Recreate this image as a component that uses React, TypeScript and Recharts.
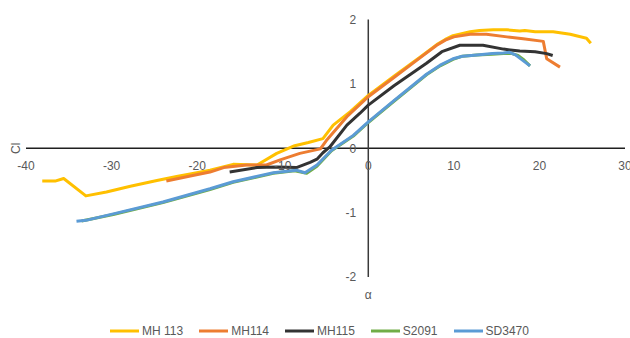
import React from 'react';
import { LineChart, Line, XAxis, YAxis, ReferenceLine, ReferenceDot, Legend } from 'recharts';

// ---- data (angle of attack α in degrees, lift coefficient Cl) ----
const mh113Alpha = [-38.1, -36.6, -35.6, -33.0, -30.6, -27.8, -24.7, -22.4, -20.5, -18.5, -15.8, -13.0, -10.7, -8.6, -7.0, -5.3, -4.1, -2.1, 0, 3, 6, 8, 9, 9.9, 11.9, 13, 14.6, 16.2, 17.7, 18.3, 19.5, 21.6, 23.6, 25.5, 26.0];
const mh113Cl = [-0.51, -0.51, -0.47, -0.74, -0.68, -0.59, -0.50, -0.44, -0.39, -0.34, -0.25, -0.26, -0.08, 0.04, 0.09, 0.15, 0.36, 0.57, 0.82, 1.12, 1.41, 1.61, 1.69, 1.75, 1.81, 1.83, 1.84, 1.84, 1.82, 1.83, 1.81, 1.81, 1.77, 1.71, 1.63];

const mh114Alpha = [-23.6, -20.8, -18.5, -16.9, -14.2, -11.9, -10.3, -8.0, -5.6, -4.9, -2.5, 0, 3, 6, 8, 9, 10, 11.9, 13.8, 16.2, 18.1, 20.45, 20.85, 22.4];
const mh114Cl = [-0.51, -0.43, -0.37, -0.30, -0.26, -0.26, -0.18, -0.08, -0.01, 0.12, 0.49, 0.80, 1.10, 1.40, 1.60, 1.68, 1.73, 1.77, 1.77, 1.73, 1.70, 1.66, 1.39, 1.26];

const mh115Alpha = [-16.2, -13.0, -10.7, -8.4, -6.8, -6.0, -5.3, -4.5, -2.5, -1.0, 0, 3, 6.8, 8.6, 10.7, 13.4, 15.8, 17.7, 19.5, 20.85, 21.55];
const mh115Cl = [-0.37, -0.30, -0.29, -0.30, -0.22, -0.17, -0.07, 0.02, 0.36, 0.54, 0.67, 0.97, 1.32, 1.50, 1.60, 1.60, 1.54, 1.51, 1.50, 1.47, 1.44];

const s2091Alpha = [-33.5, -29.8, -24.0, -18.5, -15.8, -11.1, -8.6, -7.2, -6.0, -4.3, -1.75, 0, 3, 6.8, 8.4, 9.9, 11, 12.7, 14.5, 15.8, 16.8, 17.5, 18.2, 18.9];
const s2091Cl = [-1.13, -1.03, -0.845, -0.64, -0.53, -0.39, -0.35, -0.39, -0.28, -0.04, 0.19, 0.40, 0.73, 1.14, 1.28, 1.38, 1.43, 1.45, 1.46, 1.47, 1.47, 1.44, 1.37, 1.28];

const sd3470Alpha = [-34.1, -33.0, -29.8, -24.0, -18.5, -15.8, -11.1, -8.4, -7.4, -6.0, -4.3, -1.75, 0, 3, 6.8, 8.4, 9.9, 11, 12.7, 14.5, 15.8, 16.5, 17.2, 17.7, 18.9];
const sd3470Cl = [-1.135, -1.12, -1.02, -0.835, -0.63, -0.52, -0.38, -0.34, -0.38, -0.26, -0.03, 0.20, 0.41, 0.74, 1.15, 1.29, 1.39, 1.43, 1.45, 1.47, 1.48, 1.49, 1.45, 1.40, 1.28];

const seriesNames = ['MH 113', 'MH114', 'MH115', 'S2091', 'SD3470'];
const xTicks = [-40, -30, -20, -10, 0, 10, 20, 30];
const yTicks = [-2, -1, 0, 1, 2];
const xTitle = 'α';
const yTitle = 'Cl';

const colors = ['#FFC000', '#ED7D31', '#333333', '#70AD47', '#5B9BD5'];

const zip = (a: number[], c: number[]) => a.map((v, i) => ({ a: v, cl: c[i] }));
const seriesData = [
  zip(mh113Alpha, mh113Cl),
  zip(mh114Alpha, mh114Cl),
  zip(mh115Alpha, mh115Cl),
  zip(s2091Alpha, s2091Cl),
  zip(sd3470Alpha, sd3470Cl),
];

const FONT = '"Liberation Sans", Arial, sans-serif';
const TXT = '#595959';

const LegendContent = (props: any) => {
  const payload = props.payload || [];
  return (
    <div
      style={{
        display: 'flex',
        justifyContent: 'center',
        alignItems: 'center',
        height: 20,
        paddingLeft: 9,
        fontFamily: FONT,
        fontSize: 12,
        color: TXT,
        gap: 16,
      }}
    >
      {payload.map((p: any) => (
        <div key={p.value} style={{ display: 'flex', alignItems: 'center' }}>
          <svg width={29} height={4} style={{ display: 'block' }}>
            <line x1={0} y1={2} x2={29} y2={2} stroke={p.color} strokeWidth={3} />
          </svg>
          <span style={{ marginLeft: 3, lineHeight: '14px' }}>{p.value}</span>
        </div>
      ))}
    </div>
  );
};

const ClTitle = (props: any) => {
  const vb = props.viewBox || { x: 0, y: 0 };
  const x = vb.x - 6.5;
  const y = vb.y;
  return (
    <text x={x} y={y} transform={`rotate(-90, ${x}, ${y})`} textAnchor="middle" fontFamily={FONT} fontSize={12} fill={TXT}>
      {yTitle}
    </text>
  );
};

export default function App() {
  return (
    <div style={{ position: 'absolute', left: 0, top: 0, width: 630, height: 338, background: '#fff' }}>
      <LineChart width={630} height={338} margin={{ top: 19.5, right: 5, bottom: 41, left: 26 }}>
        <XAxis type="number" dataKey="a" domain={[-40, 30]} ticks={xTicks} hide allowDataOverflow />
        <YAxis type="number" dataKey="cl" domain={[-2, 2]} ticks={yTicks} hide allowDataOverflow />
        <ReferenceLine y={0} stroke="#1f1f1f" strokeWidth={1.5} label={ClTitle} />
        <ReferenceLine
          x={0}
          stroke="#3a3a3a"
          strokeWidth={1.5}
          label={{ value: xTitle, position: 'bottom', offset: 13, fill: TXT, fontSize: 12, fontFamily: FONT }}
        />
        {xTicks.map((t) => (
          <ReferenceDot
            key={'x' + t}
            x={t}
            y={0}
            r={0}
            stroke="none"
            fill="none"
            label={{ value: String(t), position: 'bottom', offset: 13, fill: TXT, fontSize: 12, fontFamily: FONT }}
          />
        ))}
        {yTicks.map((t) => (
          <ReferenceDot
            key={'y' + t}
            x={0}
            y={t}
            r={0}
            stroke="none"
            fill="none"
            label={{ value: String(t), position: 'left', offset: 12, fill: TXT, fontSize: 12, fontFamily: FONT }}
          />
        ))}
        {seriesData.map((d, i) => (
          <Line
            key={seriesNames[i]}
            name={seriesNames[i]}
            data={d}
            dataKey="cl"
            type="linear"
            stroke={colors[i]}
            strokeWidth={3}
            dot={false}
            activeDot={false}
            isAnimationActive={false}
            strokeLinejoin="round"
          />
        ))}
        <Legend content={LegendContent} wrapperStyle={{ top: 321, left: 0, width: 630 }} />
      </LineChart>
    </div>
  );
}
